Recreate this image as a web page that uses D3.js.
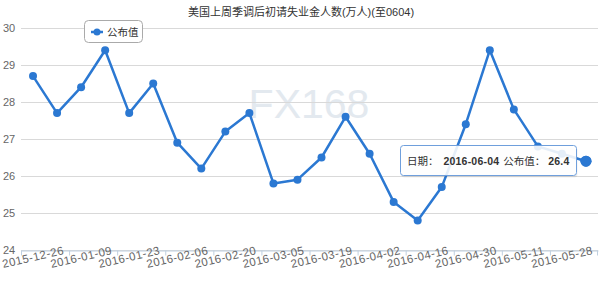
<!DOCTYPE html>
<html><head><meta charset="utf-8">
<script src="https://cdn.jsdelivr.net/npm/d3@7"></script>
<style>
html,body{margin:0;padding:0;background:#fff;}
svg{display:block;font-family:"Liberation Sans","Noto Sans CJK SC",sans-serif;}
</style></head>
<body>
<svg id="c" width="600" height="292"></svg>
<script>
const titleText = "美国上周季调后初请失业金人数(万人)(至0604)";
const seriesName = "公布值";
const dates = ["2015-12-26","2016-01-02","2016-01-09","2016-01-16","2016-01-23","2016-01-30",
  "2016-02-06","2016-02-13","2016-02-20","2016-02-27","2016-03-05","2016-03-12",
  "2016-03-19","2016-03-26","2016-04-02","2016-04-09","2016-04-16","2016-04-23",
  "2016-04-30","2016-05-07","2016-05-11","2016-05-21","2016-05-28","2016-06-04"];
const values = [28.7,27.7,28.4,29.4,27.7,28.5,26.9,26.2,27.2,27.7,25.8,25.9,
  26.5,27.6,26.6,25.3,24.8,25.7,27.4,29.4,27.8,26.8,26.6,26.4];
const yTicks = [24,25,26,27,28,29,30];
const hoverIndex = 23;

const svg = d3.select("#c");
const L = 21, R = 598, T = 28, B = 250;
const color = "#2b78d2";

const x = d3.scaleBand().domain(dates).range([L, R]);
const cx = d => x(d) + x.bandwidth()/2;
const y = d3.scaleLinear().domain([24,30]).range([B, T]);

// title
svg.append("text").attr("x", 301).attr("y", 16).attr("text-anchor","middle")
  .attr("font-size", 11).attr("fill","#333").text(titleText);

// watermark
svg.append("text").attr("x", 309).attr("y", 118).attr("text-anchor","middle")
  .attr("font-size", 41).attr("fill","#e3e9ef").attr("font-family","Liberation Sans, sans-serif")
  .text("FX168");

// gridlines
svg.append("g").selectAll("line").data(yTicks).join("line")
  .attr("x1", L).attr("x2", R).attr("y1", d=>y(d)+0.5).attr("y2", d=>y(d)+0.5)
  .attr("stroke", "#d9d9d9").attr("stroke-width",1);

// y labels
svg.append("g").selectAll("text").data(yTicks).join("text")
  .attr("x", 3).attr("y", d=>y(d)).attr("dy","0.35em")
  .attr("font-size", 11).attr("fill","#666").text(d=>d);

// x axis
const xAxis = d3.axisBottom(x).tickSize(0).tickFormat("");
const gx = svg.append("g").attr("transform",`translate(0,${B+0.5})`).call(xAxis);
gx.select(".domain").attr("stroke","#c0d0e0");
const tickDates = dates.filter((d,i)=>i%2===0);
gx.selectAll(".tk").data(tickDates.concat(["__end"])).join("line")
  .attr("x1", d=> d==="__end" ? R-0.5 : x(d)+0.5).attr("x2", d=> d==="__end" ? R-0.5 : x(d)+0.5)
  .attr("y1",0).attr("y2",5).attr("stroke","#c0d0e0");
svg.append("g").selectAll("text").data(tickDates).join("text")
  .attr("transform", d=>`translate(${cx(d)},257) rotate(-13)`)
  .attr("text-anchor","middle").attr("dy","0.35em")
  .attr("font-size", 11.5).attr("fill","#666").attr("letter-spacing","0.4")
  .text(d=>d);

// line
const line = d3.line().x((d,i)=>cx(dates[i])).y(d=>y(d));
svg.append("path").datum(values).attr("d", line).attr("fill","none")
  .attr("stroke", color).attr("stroke-width", 2.5).attr("stroke-linejoin","round");
const dots = svg.append("g");
dots.selectAll("circle").data(values).join("circle")
  .attr("cx",(d,i)=>cx(dates[i])).attr("cy",d=>y(d))
  .attr("r",(d,i)=> i===hoverIndex ? 5.5 : 4).attr("fill", color);

// legend
const lg = svg.append("g");
lg.append("rect").attr("x",84.5).attr("y",20.5).attr("width",58).attr("height",22).attr("rx",4)
  .attr("fill","#fff").attr("stroke","#aaa");
lg.append("line").attr("x1",91).attr("x2",103).attr("y1",32).attr("y2",32).attr("stroke",color).attr("stroke-width",2.5);
lg.append("circle").attr("cx",97).attr("cy",32).attr("r",3.5).attr("fill",color);
lg.append("text").attr("x",107).attr("y",32).attr("dy","0.35em").attr("font-size",10.5).attr("fill","#333").text(seriesName);

// tooltip
const tt = svg.append("g");
const shadow = tt.append("rect").attr("x",401.5).attr("y",147.5).attr("height",30).attr("rx",3)
  .attr("fill","rgba(0,0,0,0.06)");
const box = tt.append("rect").attr("x",400.5).attr("y",145.5).attr("height",30).attr("rx",3)
  .attr("fill","rgba(255,255,255,0.88)").attr("stroke","#6f9fdc");
const tx = tt.append("text").attr("x",407).attr("y",161).attr("dy","0.35em")
  .attr("font-size",10.5).attr("fill","#333");
tx.append("tspan").text("日期：");
tx.append("tspan").attr("dx",5).attr("font-weight","bold").attr("letter-spacing","0.2").text(dates[hoverIndex]);
tx.append("tspan").attr("dx",4).text(seriesName + "：");
tx.append("tspan").attr("dx",3).attr("font-weight","bold").attr("letter-spacing","0.2").text(String(values[hoverIndex]));
const bb = tx.node().getBBox();
const w = Math.ceil(bb.x + bb.width + 7 - 400.5);
box.attr("width", w);
shadow.attr("width", w);
// keep hovered point above the tooltip
svg.append("circle").attr("cx", cx(dates[hoverIndex])).attr("cy", y(values[hoverIndex]))
  .attr("r", 5.5).attr("fill", color);
</script>
</body></html>
